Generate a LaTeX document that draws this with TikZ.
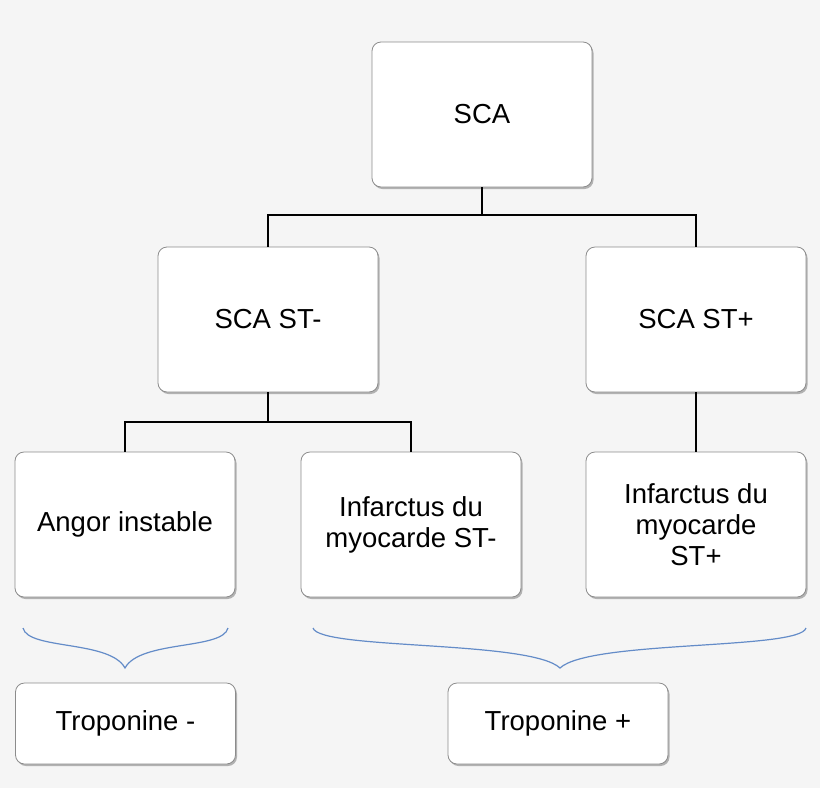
\documentclass[tikz,border=0pt]{standalone}
\usepackage{fontspec}
\setmainfont{Liberation Sans}
\begin{document}
\begin{tikzpicture}[x=1pt,y=-1pt,
  box/.style={draw=black!45,fill=white,rounded corners=9pt,line width=0.8pt,
    minimum width=220pt,minimum height=145pt,align=center,inner sep=0pt,
    font=\fontsize{27.5}{31}\selectfont,
    preaction={fill=black!30,draw=none,transform canvas={shift={(1.5pt,-2pt)}}}},
  small/.style={box,minimum height=81pt},
  con/.style={line width=2.2pt,black},
  brace/.style={line width=1.2pt,color={rgb,255:red,100;green,140;blue,200}}]
\fill[black!4] (0,0) rectangle (820,788);
\useasboundingbox (0,0) rectangle (820,788);
\node[box] (sca) at (482,114.5) {SCA};
\node[box] (stm) at (268,319.5) {SCA ST-};
\node[box] (stp) at (696,319.5) {SCA ST+};
\node[box] (ang) at (125,524.5) {Angor instable};
\node[box] (ims) at (411,524.5) {Infarctus du\\myocarde ST-};
\node[box] (imp) at (696,524.5) {Infarctus du\\myocarde\\ST+};
\node[small] (tm) at (125.5,723.5) {Troponine -};
\node[small] (tp) at (558,723.5) {Troponine +};
\coordinate (j1) at (482,215);
\coordinate (j2) at (268,422);
\draw[con] (sca.south) -- (j1) -| (stm.north);
\draw[con] (j1) -| (stp.north);
\draw[con] (stm.south) -- (j2) -| (ang.north);
\draw[con] (j2) -| (ims.north);
\draw[con] (stp.south) -- (imp.north);
\coordinate (b1) at (125,668);
\coordinate (b2) at (560,668);
\draw[brace] (23,628) .. controls (28,650) and (110,640) .. (b1)
  .. controls (140,640) and (223,650) .. (228,628);
\draw[brace] (313,628) .. controls (320,650) and (530,640) .. (b2)
  .. controls (590,640) and (800,650) .. (806,628);
\end{tikzpicture}
\end{document}
